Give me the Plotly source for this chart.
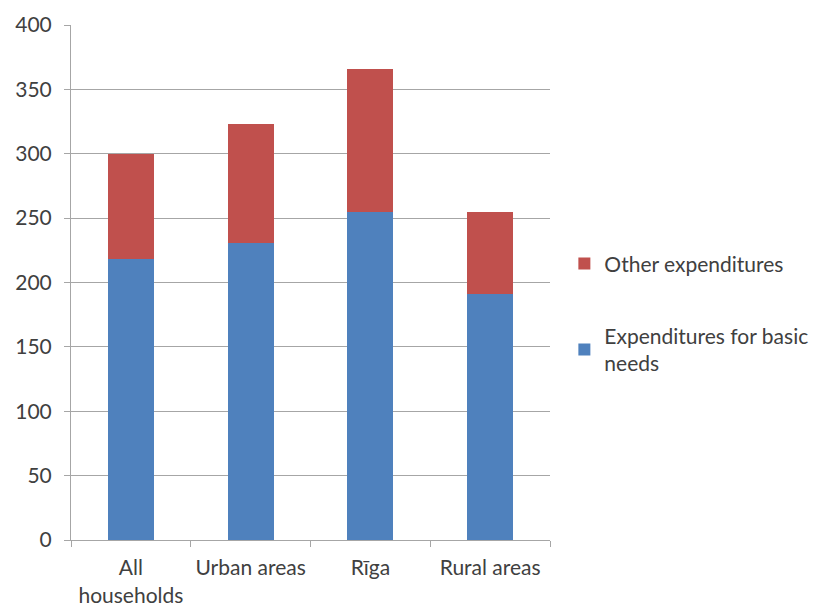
import plotly.graph_objects as go

categories = ["All<br>households", "Urban areas", "Rīga", "Rural areas"]
basic_needs = [218, 231, 255, 191]
other = [82, 92, 111, 64]
y_ticks = [0, 50, 100, 150, 200, 250, 300, 350, 400]

FONT = "Lato"
GRAY = "#a6a6a6"
TXT = "#404040"
FS = 21

fig = go.Figure()
fig.add_trace(go.Bar(
    x=categories, y=basic_needs, name="Expenditures for basic<br>needs",
    marker=dict(color="#4f81bd", line=dict(width=0)), legendgroup="b", legendrank=2,
))
fig.add_trace(go.Bar(
    x=categories, y=other, name="Other expenditures",
    marker=dict(color="#c0504d", line=dict(width=0)), legendgroup="a", legendrank=1,
))

fig.update_layout(
    width=819, height=608,
    margin=dict(l=63, r=277, t=17, b=76, autoexpand=False),
    barmode="stack", bargap=0.615,
    paper_bgcolor="white", plot_bgcolor="white",
    font=dict(family=FONT, size=FS, color=TXT),
    showlegend=True,
    legend=dict(
        x=1.03, y=0.576, xanchor="left", yanchor="top",
        traceorder="grouped", tracegroupgap=42,
        font=dict(family=FONT, size=FS, color=TXT),
        bgcolor="rgba(0,0,0,0)",
    ),
    xaxis=dict(
        type="category", showline=True, linecolor=GRAY, linewidth=1,
        ticks="outside", tickson="boundaries", ticklen=6, tickcolor=GRAY,
        ticklabelstandoff=9,
        showgrid=False, tickfont=dict(family=FONT, size=FS, color=TXT),
    ),
    yaxis=dict(
        range=[0, 400], tickvals=y_ticks, showline=True, linecolor=GRAY, linewidth=1,
        ticks="outside", ticklen=6, tickcolor=GRAY, ticklabelstandoff=8,
        showgrid=True, gridcolor=GRAY, gridwidth=1, zeroline=False,
        tickfont=dict(family=FONT, size=FS, color=TXT),
    ),
)

fig.write_html("out.html")
